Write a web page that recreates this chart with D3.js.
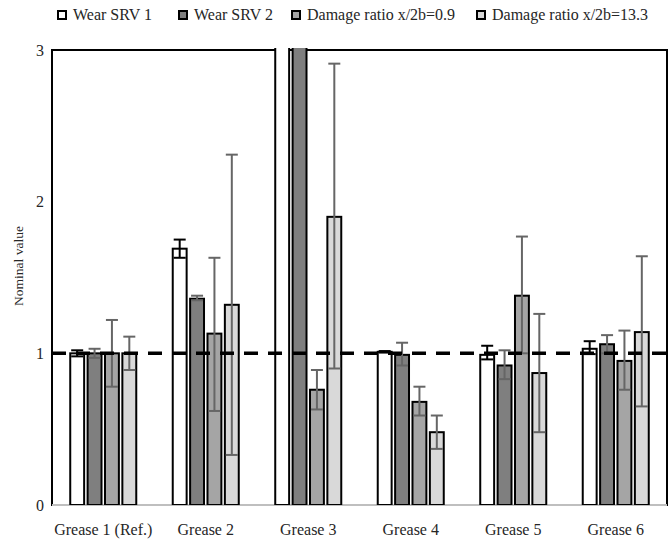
<!DOCTYPE html>
<html>
<head>
<meta charset="utf-8">
<script src="https://cdn.jsdelivr.net/npm/d3@7"></script>
<style>
  html, body { margin: 0; padding: 0; background: #fff; }
</style>
</head>
<body>
<svg id="chart" width="671" height="542"></svg>
<script>
// ---- data ----
const categories = ["Grease 1 (Ref.)", "Grease 2", "Grease 3", "Grease 4", "Grease 5", "Grease 6"];
const seriesNames = ["Wear SRV 1", "Wear SRV 2", "Damage ratio x/2b=0.9", "Damage ratio x/2b=13.3"];
const seriesColors = ["#ffffff", "#7f7f7f", "#a5a5a5", "#d9d9d9"];
const errorColors = ["#000000", "#666666", "#666666", "#666666"];

const wear1    = [1.00, 1.69, 4.50, 1.01, 0.99, 1.03];
const wear1Lo  = [0.98, 1.63, 4.30, 1.005, 0.96, 0.995];
const wear1Hi  = [1.02, 1.75, 4.70, 1.015, 1.05, 1.08];
const wear2    = [1.00, 1.36, 5.50, 0.99, 0.92, 1.06];
const wear2Lo  = [0.97, 1.35, 5.20, 0.92, 0.83, 1.00];
const wear2Hi  = [1.03, 1.38, 5.80, 1.07, 1.02, 1.12];
const dmg09    = [1.00, 1.13, 0.76, 0.68, 1.38, 0.95];
const dmg09Lo  = [0.78, 0.62, 0.63, 0.59, 1.00, 0.76];
const dmg09Hi  = [1.22, 1.63, 0.89, 0.78, 1.77, 1.15];
const dmg133   = [1.00, 1.32, 1.90, 0.48, 0.87, 1.14];
const dmg133Lo = [0.89, 0.33, 0.90, 0.37, 0.48, 0.65];
const dmg133Hi = [1.11, 2.31, 2.91, 0.59, 1.26, 1.64];

const yTicks = [0, 1, 2, 3];
const refLine = 1;
const yTitle = "Nominal value";

const seriesValues = [wear1, wear2, dmg09, dmg133];
const seriesLo = [wear1Lo, wear2Lo, dmg09Lo, dmg133Lo];
const seriesHi = [wear1Hi, wear2Hi, dmg09Hi, dmg133Hi];

// ---- layout ----
const svg = d3.select("#chart");
const pLeft = 52, pRight = 667, pTop = 50, pBottom = 505;
const textColor = "#262626";
const serif = "'Liberation Serif', 'Times New Roman', serif";

const x0 = d3.scaleBand().domain(categories).range([pLeft, pRight]).paddingInner(0).paddingOuter(0);
const x1 = d3.scaleBand().domain(d3.range(seriesNames.length))
  .range([0, x0.bandwidth()]).paddingInner(0.2).paddingOuter(1.05);
const y = d3.scaleLinear().domain([0, 3]).range([pBottom, pTop]);

// clip
svg.append("defs").append("clipPath").attr("id", "plotClip")
  .append("rect").attr("x", pLeft - 2).attr("y", pTop - 2)
  .attr("width", pRight - pLeft + 4).attr("height", pBottom - pTop + 2);

// plot frame
svg.append("rect")
  .attr("x", pLeft).attr("y", pTop)
  .attr("width", pRight - pLeft).attr("height", pBottom - pTop)
  .attr("fill", "none").attr("stroke", "#000").attr("stroke-width", 2);

// baseline
svg.append("line")
  .attr("x1", pLeft).attr("x2", pRight)
  .attr("y1", y(0)).attr("y2", y(0))
  .attr("stroke", "#bfbfbf").attr("stroke-width", 2);

// bars
const plot = svg.append("g").attr("clip-path", "url(#plotClip)");
const rows = [];
categories.forEach((c, ci) => {
  seriesNames.forEach((s, si) => {
    rows.push({ c, si, v: seriesValues[si][ci], lo: seriesLo[si][ci], hi: seriesHi[si][ci] });
  });
});

plot.selectAll("rect.bar").data(rows).join("rect")
  .attr("class", "bar")
  .attr("x", d => x0(d.c) + x1(d.si))
  .attr("width", x1.bandwidth())
  .attr("y", d => y(d.v))
  .attr("height", d => y(0) - y(d.v))
  .attr("fill", d => seriesColors[d.si])
  .attr("stroke", "#000")
  .attr("stroke-width", 2);

// error bars
const cap = 6;
const cx = d => x0(d.c) + x1(d.si) + x1.bandwidth() / 2;
const eg = plot.selectAll("g.err").data(rows).join("g").attr("class", "err")
  .attr("stroke", d => errorColors[d.si]).attr("stroke-width", 2);
eg.append("line")
  .attr("x1", cx).attr("x2", cx)
  .attr("y1", d => y(d.lo)).attr("y2", d => y(d.hi));
eg.append("line")
  .attr("x1", d => cx(d) - cap).attr("x2", d => cx(d) + cap)
  .attr("y1", d => y(d.hi)).attr("y2", d => y(d.hi));
eg.append("line")
  .attr("x1", d => cx(d) - cap).attr("x2", d => cx(d) + cap)
  .attr("y1", d => y(d.lo)).attr("y2", d => y(d.lo));

// reference dashed line
svg.append("line")
  .attr("x1", pLeft).attr("x2", pRight)
  .attr("y1", y(refLine)).attr("y2", y(refLine))
  .attr("stroke", "#000").attr("stroke-width", 3.5)
  .attr("stroke-dasharray", "14,10");

// y axis labels
const yAxis = d3.axisLeft(y).tickValues(yTicks).tickSize(0).tickPadding(8).tickFormat(d3.format("d"));
const ya = svg.append("g").attr("transform", `translate(${pLeft},0)`).call(yAxis);
ya.select(".domain").remove();
ya.selectAll("text").attr("font-size", 16).attr("fill", textColor);

// x axis labels
const xAxis = d3.axisBottom(x0).tickSize(0).tickPadding(0);
const xa = svg.append("g").attr("transform", `translate(0,${pBottom})`).call(xAxis);
xa.select(".domain").remove();
xa.selectAll("text").attr("font-size", 16).attr("fill", textColor)
  .attr("dy", null).attr("y", 30);

// y title
svg.append("text")
  .attr("transform", `translate(23,266) rotate(-90)`)
  .attr("text-anchor", "middle")
  .attr("font-size", 13.5).attr("fill", textColor)
  .text(yTitle);

// legend
const legendX = [57, 178, 291, 476];
const lg = svg.append("g").selectAll("g").data(seriesNames).join("g")
  .attr("transform", (d, i) => `translate(${legendX[i]},10)`);
lg.append("rect").attr("x", 1).attr("y", 1).attr("width", 8).attr("height", 8)
  .attr("fill", (d, i) => seriesColors[i]).attr("stroke", "#000").attr("stroke-width", 2);
lg.append("text").attr("x", 16).attr("y", 10)
  .attr("font-size", 16).attr("fill", textColor)
  .text(d => d);

// force serif font on every text
svg.selectAll("text").style("font-family", serif);
</script>
</body>
</html>
